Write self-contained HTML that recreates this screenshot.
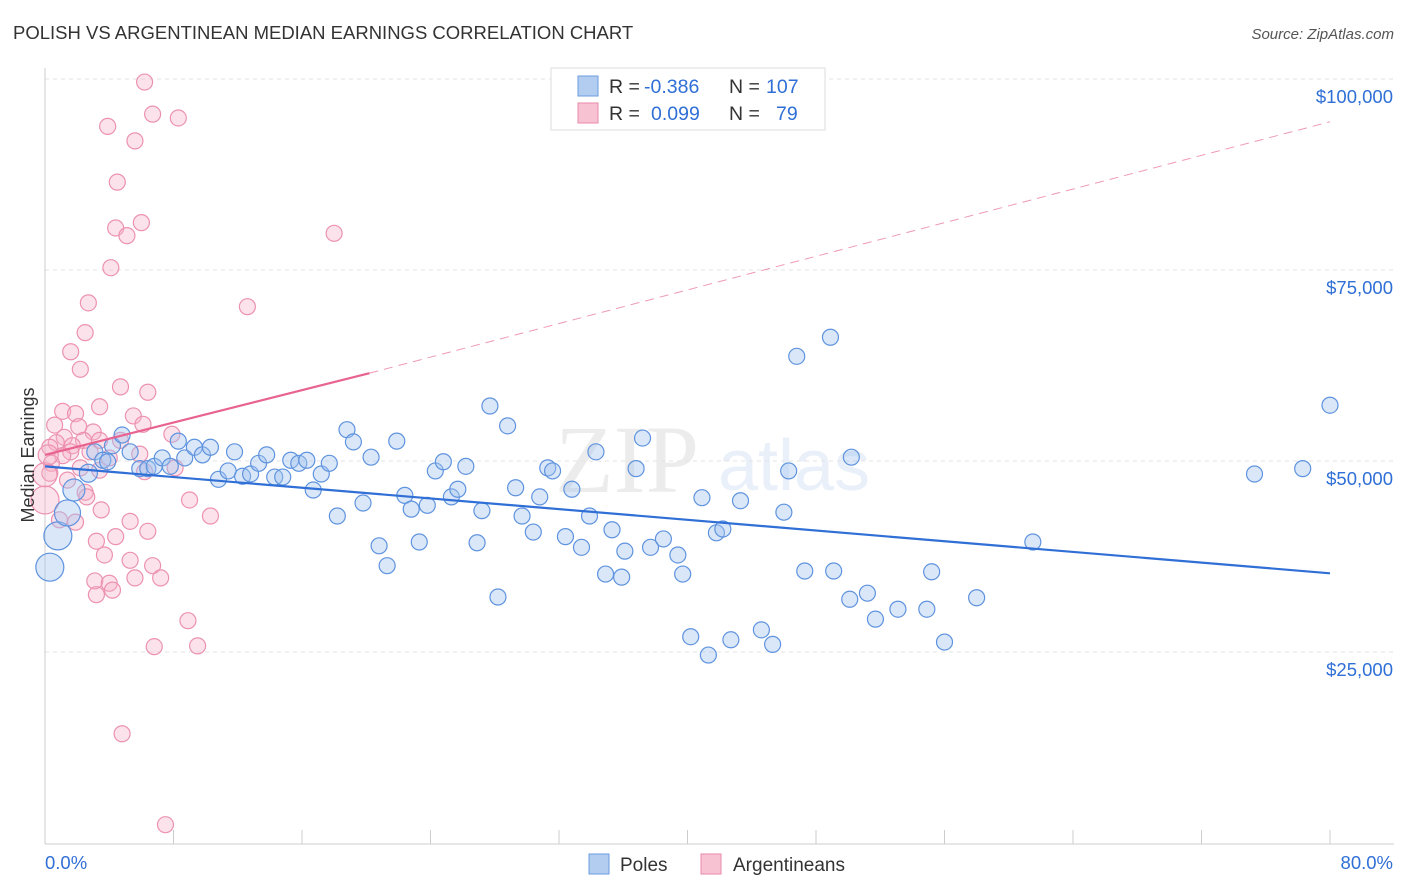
<!DOCTYPE html>
<html><head><meta charset="utf-8"><style>
body{margin:0;background:#fff;font-family:"Liberation Sans",sans-serif;}
#wrap{position:relative;width:1406px;height:892px;overflow:hidden;}
</style></head><body>
<div id="wrap">
<svg id="chart" width="1406" height="892" style="position:absolute;left:0;top:0">
<text x="13" y="39" font-size="18.5" fill="#333">POLISH VS ARGENTINEAN MEDIAN EARNINGS CORRELATION CHART</text>
<text x="1394" y="39" font-size="15" fill="#555" text-anchor="end" font-style="italic">Source: ZipAtlas.com</text>
<g opacity="0.13">
<text x="555" y="492" font-size="96" fill="#777" font-family="Liberation Serif, serif">ZIP</text>
<text x="718" y="490" font-size="72" fill="#5b8fd6">atlas</text>
</g>
<g id="grid"></g>
<g id="axes"></g>
<g id="pinkpts"></g>
<g id="bluepts"></g>
<g id="lines"></g>
<text x="34" y="455" font-size="18" fill="#333" text-anchor="middle" transform="rotate(-90 34 455)">Median Earnings</text>
<g>
<rect x="551" y="68" width="274" height="62" fill="#fff" stroke="#ddd"/>
<rect x="578" y="76" width="20" height="20" fill="#b3cdf0" stroke="#6b9de0"/>
<rect x="578" y="103" width="20" height="20" fill="#f7c3d3" stroke="#e98aa8"/>
<text x="609" y="93" font-size="19.5" fill="#333">R =</text>
<text x="644" y="93" font-size="19.5" fill="#2f6fd6">-0.386</text>
<text x="729" y="93" font-size="19.5" fill="#333">N =</text>
<text x="766" y="93" font-size="19.5" fill="#2f6fd6">107</text>
<text x="609" y="120" font-size="19.5" fill="#333">R =</text>
<text x="651" y="120" font-size="19.5" fill="#2f6fd6">0.099</text>
<text x="729" y="120" font-size="19.5" fill="#333">N =</text>
<text x="776" y="120" font-size="19.5" fill="#2f6fd6">79</text>
</g>
<g>
<rect x="589" y="854" width="20" height="20" fill="#b3cdf0" stroke="#6b9de0"/>
<text x="620" y="871" font-size="19" fill="#333">Poles</text>
<rect x="701" y="854" width="20" height="20" fill="#f7c3d3" stroke="#e98aa8"/>
<text x="733" y="871" font-size="19" fill="#333">Argentineans</text>
</g>
</svg>
</div>
<script>
const blueX=[0.3,0.8,1.4,1.8,2.7,3.1,3.6,3.9,4.2,4.8,5.3,5.9,6.4,6.8,7.3,7.8,8.3,8.7,9.3,9.8,10.3,10.8,11.4,11.8,12.3,12.8,13.3,13.8,14.3,14.8,15.3,15.8,16.3,16.7,17.2,17.7,18.2,18.8,19.2,19.8,20.3,20.8,21.3,21.9,22.4,22.8,23.3,23.8,24.3,24.8,25.3,25.7,26.2,26.9,27.2,27.7,28.2,28.8,29.3,29.7,30.4,30.8,31.3,31.6,32.4,32.8,33.4,33.9,34.3,34.9,35.3,35.9,36.1,36.8,37.2,37.7,38.5,39.4,39.7,40.2,40.9,41.3,41.8,42.2,42.7,43.3,44.6,45.3,46.0,46.3,46.8,47.3,48.9,49.1,50.1,50.2,51.2,51.7,53.1,54.9,55.2,56.0,58.0,61.5,75.3,78.3,80.0];
const blueY=[36.1,40.2,43.2,46.2,48.4,51.2,50.1,49.9,52.0,53.4,51.2,49.0,49.0,49.3,50.4,49.3,52.6,50.4,51.8,50.8,51.8,47.6,48.7,51.2,48.0,48.3,49.7,50.8,47.9,47.9,50.1,49.7,50.1,46.2,48.3,49.7,42.8,54.1,52.5,44.5,50.5,38.9,36.3,52.6,45.5,43.7,39.4,44.2,48.7,49.9,45.3,46.3,49.3,39.3,43.5,57.2,32.2,54.6,46.5,42.8,40.7,45.3,49.1,48.7,40.1,46.3,38.7,42.8,51.2,35.2,41.0,34.8,38.2,49.0,53.0,38.7,39.8,37.7,35.2,27.0,45.2,24.6,40.6,41.1,26.6,44.8,27.9,26.0,43.3,48.7,63.7,35.6,66.2,35.6,31.9,50.5,32.7,29.3,30.6,30.6,35.5,26.3,32.1,39.4,48.3,49.0,57.3];
const blueSize=[14,14,13,11,9];
const pinkX=[6.2,6.7,8.3,3.9,5.6,4.5,6.0,4.4,5.1,4.1,18.0,12.6,2.7,2.5,1.6,2.2,4.7,6.4,3.4,1.1,1.9,5.5,6.1,0.6,2.1,3.0,7.9,1.2,2.4,0.7,4.7,3.4,1.7,0.3,1.6,2.8,1.1,5.9,4.0,0.4,2.2,3.4,8.1,0.3,6.2,1.4,2.5,9.0,2.6,3.5,10.3,5.3,0.9,1.9,6.4,3.2,4.4,3.7,5.3,6.7,7.2,3.1,4.0,5.6,4.2,3.2,8.9,6.8,9.5,4.8,7.5,0.0,0.0,0.2];
const pinkY=[99.6,95.4,94.9,93.8,91.9,86.5,81.2,80.5,79.5,75.3,79.8,70.2,70.7,66.8,64.3,62.0,59.7,59.0,57.1,56.5,56.2,55.9,54.8,54.7,54.5,53.8,53.5,53.1,52.7,52.4,52.7,52.7,52.0,51.8,51.2,51.2,50.7,50.9,50.4,49.7,49.1,48.8,49.1,48.4,48.6,47.5,45.9,44.9,45.3,43.6,42.8,42.1,42.3,42.0,40.8,39.5,40.1,37.7,37.0,36.3,34.7,34.3,34.0,34.7,33.1,32.5,29.1,25.7,25.8,14.3,2.4,44.9,48.2,50.8];
const pinkSize={71:14,72:12,73:10};
const yTicks=[25,50,75,100];
const yTickLabels=["$25,000","$50,000","$75,000","$100,000"];
const xTicks=[0,8,16,24,32,40,48,56,64,72,80];
const blueTrend=[[0,49.3],[80,35.3]];
const pinkTrend=[[0,50.8],[20.2,61.5],[80,94.4]];

const NS="http://www.w3.org/2000/svg";
function X(p){return 45+p*(1285/80);}
function Y(k){return 843-k*7.64;}
function mk(tag,attrs,parent){const e=document.createElementNS(NS,tag);for(const k in attrs)e.setAttribute(k,attrs[k]);parent.appendChild(e);return e;}
const grid=document.getElementById('grid'),axes=document.getElementById('axes');
yTicks.forEach((t,i)=>{
  const l=mk('line',{x1:45,x2:1394,y1:Y(t),y2:Y(t),stroke:'#e3e3e3','stroke-dasharray':'4,4'},grid);
  
  
  const tx=mk('text',{x:1393,y:Y(t)+24,'font-size':18.5,fill:'#2f6fd6','text-anchor':'end'},axes);
  tx.textContent=yTickLabels[i];
  
  
});
const ax=mk('line',{x1:45,x2:45,y1:68,y2:844,stroke:'#ccc'},axes);


const bx=mk('line',{x1:45,x2:1394,y1:844,y2:844,stroke:'#ccc'},axes);


xTicks.forEach(t=>{
  const l=mk('line',{x1:X(t),x2:X(t),y1:830,y2:844,stroke:'#ccc'},axes);
  
  
});
const x0=mk('text',{x:45,y:869,'font-size':18.5,fill:'#2f6fd6'},axes);x0.textContent='0.0%';


const x1=mk('text',{x:1393,y:869,'font-size':18.5,fill:'#2f6fd6','text-anchor':'end'},axes);x1.textContent='80.0%';



const pg=document.getElementById('pinkpts');
pinkX.forEach((v,i)=>{
  const c=mk('circle',{cx:X(v),cy:Y(pinkY[i]),r:pinkSize[i]||8,fill:'rgba(245,175,198,0.35)',stroke:'#ec92b0','stroke-width':1.2},pg);
  
  
});
const bg=document.getElementById('bluepts');
blueX.forEach((v,i)=>{
  const c=mk('circle',{cx:X(v),cy:Y(blueY[i]),r:blueSize[i]||8,fill:'rgba(160,195,240,0.4)',stroke:'#5f93de','stroke-width':1.2},bg);
  
  
});
const lg=document.getElementById('lines');
const bl=mk('line',{x1:X(blueTrend[0][0]),y1:Y(blueTrend[0][1]),x2:X(blueTrend[1][0]),y2:Y(blueTrend[1][1]),stroke:'#2f6fd6','stroke-width':2.2},lg);


const ps=mk('line',{x1:X(pinkTrend[0][0]),y1:Y(pinkTrend[0][1]),x2:X(pinkTrend[1][0]),y2:Y(pinkTrend[1][1]),stroke:'#e8638f','stroke-width':2.2},lg);


const pd=mk('line',{x1:X(pinkTrend[1][0]),y1:Y(pinkTrend[1][1]),x2:X(pinkTrend[2][0]),y2:Y(pinkTrend[2][1]),stroke:'#ee9ab5','stroke-width':1,'stroke-dasharray':'9,6'},lg);


</script>
</body></html>
